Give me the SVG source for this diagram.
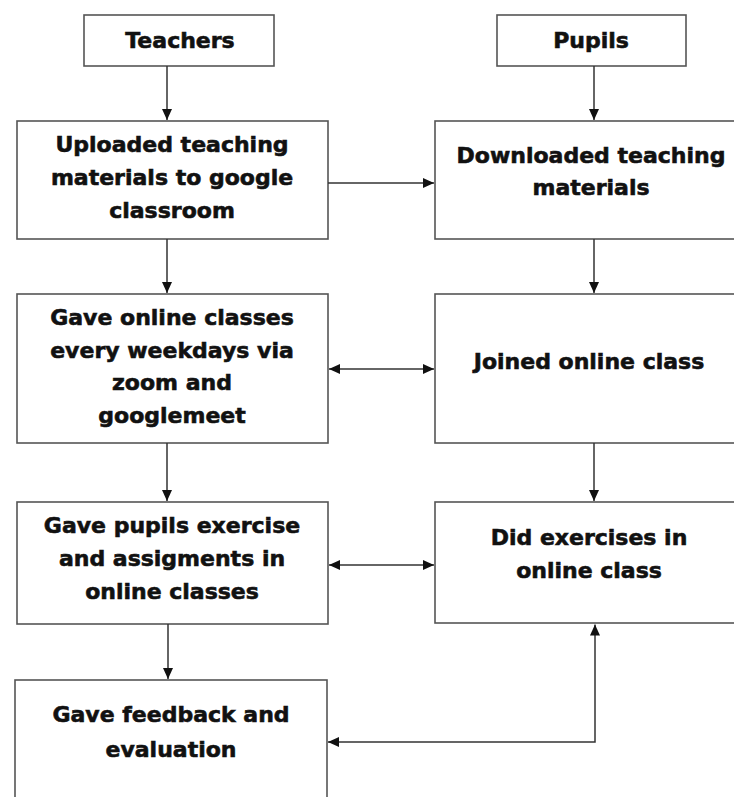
<svg xmlns="http://www.w3.org/2000/svg" width="734" height="797" viewBox="0 0 734 797">
<style>
.box{fill:#fff;stroke:#555;stroke-width:1.6}
.t{font-family:"DejaVu Sans",Verdana,sans-serif;font-weight:bold;font-size:22px;fill:#111;stroke:#111;stroke-width:0.6;text-anchor:middle}
.c{fill:none;stroke:#333;stroke-width:1.5}
</style>
<defs>
<marker id="ah" markerUnits="userSpaceOnUse" markerWidth="11" markerHeight="11" viewBox="0 0 11 11" refX="11" refY="5.5" orient="auto-start-reverse">
<path d="M0,0.5 L11,5.5 L0,10.5 Z" fill="#111"/>
</marker>
</defs>
<rect width="734" height="797" fill="#fff"/>
<g id="teachers"><rect class="box" x="84" y="15" width="190" height="51"/><text class="t" x="180" y="48">Teachers</text></g>
<g id="pupils"><rect class="box" x="497" y="15" width="189" height="51"/><text class="t" x="591" y="48">Pupils</text></g>
<g id="uploaded"><rect class="box" x="17" y="121" width="311" height="118"/>
<text class="t" x="172" y="152">Uploaded teaching</text><text class="t" x="172" y="185">materials to google</text><text class="t" x="172" y="218">classroom</text></g>
<g id="downloaded"><rect class="box" x="435" y="121" width="310" height="118"/>
<text class="t" x="591" y="163">Downloaded teaching</text><text class="t" x="591" y="195">materials</text></g>
<g id="gaveonline"><rect class="box" x="17" y="294" width="311" height="149"/>
<text class="t" x="172" y="325">Gave online classes</text><text class="t" x="172" y="358">every weekdays via</text><text class="t" x="172" y="390">zoom and</text><text class="t" x="172" y="423">googlemeet</text></g>
<g id="joined"><rect class="box" x="435" y="294" width="310" height="149"/>
<text class="t" x="589" y="369">Joined online class</text></g>
<g id="gavepupils"><rect class="box" x="17" y="502" width="311" height="122"/>
<text class="t" x="172" y="533">Gave pupils exercise</text><text class="t" x="172" y="566">and assigments in</text><text class="t" x="172" y="599">online classes</text></g>
<g id="did"><rect class="box" x="435" y="502" width="310" height="121"/>
<text class="t" x="589" y="545">Did exercises in</text><text class="t" x="589" y="578">online class</text></g>
<g id="feedback"><rect class="box" x="15" y="680" width="312" height="130"/>
<text class="t" x="171" y="722">Gave feedback and</text><text class="t" x="171" y="757">evaluation</text></g>
<g id="connectors">
<line class="c" x1="167" y1="66" x2="167" y2="120" marker-end="url(#ah)"/>
<line class="c" x1="594" y1="66" x2="594" y2="120" marker-end="url(#ah)"/>
<line class="c" x1="328" y1="183" x2="434" y2="183" marker-end="url(#ah)"/>
<line class="c" x1="167" y1="239" x2="167" y2="293" marker-end="url(#ah)"/>
<line class="c" x1="594" y1="239" x2="594" y2="293" marker-end="url(#ah)"/>
<line class="c" x1="329" y1="369" x2="434" y2="369" marker-start="url(#ah)" marker-end="url(#ah)"/>
<line class="c" x1="167" y1="443" x2="167" y2="501" marker-end="url(#ah)"/>
<line class="c" x1="594" y1="443" x2="594" y2="501" marker-end="url(#ah)"/>
<line class="c" x1="329" y1="565" x2="434" y2="565" marker-start="url(#ah)" marker-end="url(#ah)"/>
<line class="c" x1="168" y1="624" x2="168" y2="679" marker-end="url(#ah)"/>
<path class="c" d="M328,742 H595 V624.5" marker-start="url(#ah)" marker-end="url(#ah)"/>
</g>
</svg>
